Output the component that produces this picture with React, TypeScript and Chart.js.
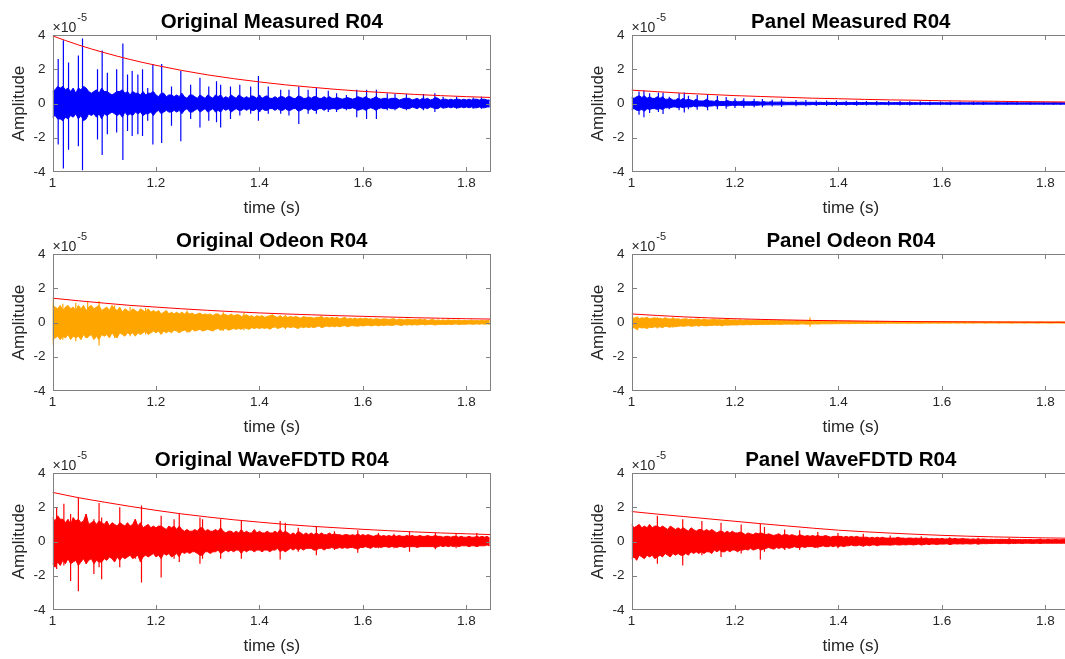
import React, { useEffect, useRef } from "react";
import { Chart, registerables } from "chart.js";
Chart.register(...registerables);

const FONT = "'Liberation Sans', Arial, Helvetica, sans-serif";

// axis ticks (amplitude in units of 1e-5)
const xTicks = [1, 1.2, 1.4, 1.6, 1.8];
const yTicks = [-4, -2, 0, 2, 4];
const xMin = 1;
const xMax = 1.8475;
const yMin = -4;
const yMax = 4;

// dense part of each signal: per-bin max / min (bin width 5 ms, first bin at 1.000 s)
const binStart = 1.0;
const binWidth = 0.005;

// envelope sample times (s)
const envTimes = [1.0, 1.05, 1.1, 1.15, 1.2, 1.25, 1.3, 1.35, 1.4, 1.45, 1.5, 1.55, 1.6, 1.65, 1.7, 1.75, 1.8, 1.85];

// ---------- Original Measured R04 ----------
const measOrigBandHi = [
  0.7, 0.8, 1.0, 0.9, 1.0, 0.8, 0.9, 0.7, 0.9, 0.6,
  0.9, 0.8, 1.0, 0.9, 0.7, 0.6, 0.7, 0.8, 0.6, 0.9,
  0.7, 0.7, 0.6, 0.5, 0.6, 0.7, 0.7, 0.8, 0.6, 0.7,
  0.5, 0.7, 0.6, 0.6, 0.5, 0.7, 0.5, 0.6, 0.6, 0.7,
  0.5, 0.4, 0.6, 0.6, 0.4, 0.5, 0.5, 0.4, 0.5, 0.4,
  0.6, 0.4, 0.3, 0.5, 0.5, 0.4, 0.3, 0.5, 0.4, 0.3,
  0.5, 0.4, 0.3, 0.5, 0.4, 0.5, 0.3, 0.4, 0.3, 0.5,
  0.4, 0.3, 0.5, 0.4, 0.3, 0.4, 0.3, 0.45, 0.4, 0.3,
  0.5, 0.3, 0.4, 0.45, 0.3, 0.3, 0.4, 0.3, 0.4, 0.4,
  0.3, 0.4, 0.4, 0.3, 0.3, 0.45, 0.4, 0.3, 0.3, 0.4,
  0.3, 0.4, 0.4, 0.3, 0.3, 0.4, 0.3, 0.4, 0.3, 0.3,
  0.35, 0.3, 0.25, 0.3, 0.35, 0.3, 0.25, 0.3, 0.4, 0.35,
  0.3, 0.4, 0.3, 0.25, 0.3, 0.4, 0.3, 0.25, 0.3, 0.3,
  0.25, 0.3, 0.3, 0.3, 0.2, 0.25, 0.3, 0.3, 0.3, 0.2,
  0.25, 0.3, 0.2, 0.3, 0.25, 0.3, 0.2, 0.25, 0.35, 0.3,
  0.2, 0.25, 0.25, 0.2, 0.25, 0.2, 0.25, 0.25, 0.2, 0.25,
  0.2, 0.25, 0.2, 0.25, 0.25, 0.2, 0.25, 0.25, 0.2, 0.2,
];
const measOrigBandLo = [
  -0.8, -0.7, -0.9, -0.9, -1.0, -0.8, -0.9, -0.7, -0.8, -0.6,
  -0.9, -0.7, -1.0, -0.9, -0.6, -0.7, -0.6, -0.8, -0.6, -0.9,
  -0.6, -0.7, -0.6, -0.5, -0.6, -0.7, -0.6, -0.8, -0.5, -0.7,
  -0.6, -0.7, -0.5, -0.6, -0.5, -0.7, -0.6, -0.6, -0.5, -0.7,
  -0.5, -0.4, -0.6, -0.5, -0.4, -0.5, -0.5, -0.4, -0.5, -0.4,
  -0.6, -0.4, -0.3, -0.5, -0.5, -0.4, -0.3, -0.5, -0.4, -0.3,
  -0.5, -0.4, -0.3, -0.5, -0.4, -0.5, -0.3, -0.4, -0.3, -0.5,
  -0.4, -0.3, -0.4, -0.4, -0.3, -0.4, -0.3, -0.4, -0.4, -0.3,
  -0.5, -0.3, -0.4, -0.4, -0.3, -0.3, -0.4, -0.3, -0.4, -0.4,
  -0.3, -0.4, -0.4, -0.3, -0.3, -0.45, -0.4, -0.3, -0.3, -0.4,
  -0.3, -0.4, -0.4, -0.3, -0.3, -0.4, -0.3, -0.35, -0.3, -0.3,
  -0.35, -0.3, -0.25, -0.3, -0.3, -0.3, -0.25, -0.3, -0.4, -0.35,
  -0.3, -0.4, -0.3, -0.25, -0.3, -0.4, -0.3, -0.25, -0.3, -0.3,
  -0.25, -0.3, -0.3, -0.3, -0.2, -0.25, -0.3, -0.3, -0.3, -0.2,
  -0.25, -0.3, -0.2, -0.3, -0.25, -0.3, -0.2, -0.25, -0.3, -0.3,
  -0.2, -0.25, -0.25, -0.2, -0.25, -0.2, -0.25, -0.25, -0.2, -0.25,
  -0.2, -0.25, -0.2, -0.25, -0.25, -0.2, -0.25, -0.25, -0.2, -0.2,
];
const measOrigSpikeT = [
  1.011, 1.021, 1.031, 1.05, 1.058, 1.087, 1.096, 1.106, 1.124, 1.136,
  1.145, 1.154, 1.165, 1.174, 1.184, 1.194, 1.211, 1.23, 1.248, 1.267,
  1.285, 1.302, 1.317, 1.325, 1.344, 1.362, 1.383, 1.398, 1.417, 1.441,
  1.457, 1.476, 1.494, 1.51, 1.533, 1.549, 1.568, 1.588, 1.607, 1.626,
  1.647, 1.662, 1.684, 1.717, 1.739, 1.755, 1.781, 1.813, 1.829,
];
const measOrigSpikeUp = [
  2.6, 3.7, 2.4, 2.8, 3.8, 2.0, 3.1, 1.8, 2.0, 3.5,
  1.7, 1.9, 1.7, 2.0, 0.9, 2.3, 2.3, 1.0, 1.9, 1.1,
  1.5, 1.0, 1.3, 1.1, 1.0, 1.1, 1.0, 1.6, 1.0, 0.8,
  0.8, 1.0, 0.8, 0.9, 0.75, 0.6, 0.5, 0.8, 0.8, 0.8,
  0.6, 0.55, 0.55, 0.55, 0.6, 0.4, 0.4, 0.35, 0.4,
];
const measOrigSpikeDown = [
  -2.4, -3.8, -2.7, -2.5, -3.9, -2.1, -3.0, -1.8, -1.7, -3.3,
  -1.6, -1.9, -1.8, -1.9, -1.0, -2.4, -2.3, -1.3, -2.2, -0.9,
  -1.4, -1.0, -1.1, -1.4, -0.9, -0.7, -0.6, -1.0, -0.6, -0.6,
  -0.7, -1.2, -0.6, -0.6, -0.5, -0.5, -0.4, -0.8, -0.9, -0.9,
  -0.4, -0.4, -0.4, -0.4, -0.5, -0.3, -0.3, -0.3, -0.3,
];
const measOrigEnv = [3.95, 3.42, 2.97, 2.57, 2.23, 1.93, 1.67, 1.45, 1.26, 1.09, 0.95, 0.82, 0.71, 0.62, 0.53, 0.46, 0.4, 0.35];

// ---------- Panel Measured R04 ----------
const measPanelBandHi = [
  0.35, 0.3, 0.4, 0.45, 0.35, 0.45, 0.3, 0.4, 0.3, 0.3,
  0.4, 0.3, 0.4, 0.25, 0.25, 0.3, 0.2, 0.2, 0.3, 0.2,
  0.3, 0.2, 0.25, 0.2, 0.15, 0.25, 0.15, 0.15, 0.15, 0.25,
  0.15, 0.15, 0.12, 0.2, 0.12, 0.12, 0.12, 0.18, 0.12, 0.1,
  0.15, 0.1, 0.1, 0.15, 0.1, 0.1, 0.1, 0.12, 0.1, 0.1,
  0.08, 0.12, 0.08, 0.08, 0.1, 0.08, 0.08, 0.08, 0.1, 0.08,
  0.07, 0.07, 0.08, 0.07, 0.07, 0.07, 0.08, 0.07, 0.07, 0.07,
  0.07, 0.06, 0.06, 0.07, 0.06, 0.06, 0.07, 0.06, 0.06, 0.06,
  0.06, 0.06, 0.07, 0.06, 0.06, 0.06, 0.06, 0.06, 0.06, 0.06,
  0.06, 0.05, 0.06, 0.05, 0.06, 0.05, 0.05, 0.06, 0.05, 0.05,
  0.05, 0.05, 0.06, 0.05, 0.05, 0.05, 0.05, 0.05, 0.05, 0.05,
  0.05, 0.04, 0.05, 0.05, 0.05, 0.04, 0.05, 0.05, 0.05, 0.04,
  0.05, 0.04, 0.05, 0.04, 0.05, 0.04, 0.05, 0.04, 0.05, 0.04,
  0.04, 0.05, 0.04, 0.04, 0.05, 0.04, 0.04, 0.05, 0.04, 0.04,
  0.04, 0.04, 0.05, 0.04, 0.04, 0.04, 0.04, 0.05, 0.04, 0.04,
  0.04, 0.04, 0.04, 0.05, 0.04, 0.04, 0.04, 0.04, 0.04, 0.04,
  0.04, 0.04, 0.04, 0.04, 0.05, 0.04, 0.04, 0.04, 0.04, 0.04,
];
const measPanelBandLo = [
  -0.35, -0.3, -0.4, -0.4, -0.35, -0.45, -0.3, -0.35, -0.3, -0.3,
  -0.35, -0.3, -0.35, -0.25, -0.25, -0.25, -0.2, -0.2, -0.25, -0.2,
  -0.25, -0.2, -0.2, -0.2, -0.15, -0.2, -0.15, -0.15, -0.15, -0.2,
  -0.15, -0.15, -0.12, -0.15, -0.12, -0.12, -0.12, -0.15, -0.12, -0.1,
  -0.12, -0.1, -0.1, -0.12, -0.1, -0.1, -0.1, -0.1, -0.1, -0.1,
  -0.08, -0.1, -0.08, -0.08, -0.08, -0.08, -0.08, -0.08, -0.08, -0.08,
  -0.07, -0.07, -0.07, -0.07, -0.07, -0.07, -0.07, -0.07, -0.07, -0.07,
  -0.06, -0.06, -0.06, -0.06, -0.06, -0.06, -0.06, -0.06, -0.06, -0.06,
  -0.06, -0.06, -0.06, -0.06, -0.06, -0.05, -0.06, -0.06, -0.05, -0.06,
  -0.05, -0.05, -0.05, -0.05, -0.05, -0.05, -0.05, -0.05, -0.05, -0.05,
  -0.05, -0.05, -0.05, -0.05, -0.05, -0.05, -0.05, -0.05, -0.05, -0.05,
  -0.05, -0.04, -0.05, -0.04, -0.05, -0.04, -0.05, -0.04, -0.05, -0.04,
  -0.04, -0.04, -0.05, -0.04, -0.04, -0.04, -0.04, -0.04, -0.04, -0.04,
  -0.04, -0.04, -0.04, -0.04, -0.04, -0.04, -0.04, -0.04, -0.04, -0.04,
  -0.04, -0.04, -0.04, -0.04, -0.04, -0.04, -0.04, -0.04, -0.04, -0.04,
  -0.04, -0.04, -0.04, -0.04, -0.04, -0.04, -0.04, -0.04, -0.04, -0.04,
  -0.04, -0.04, -0.04, -0.04, -0.04, -0.04, -0.04, -0.04, -0.04, -0.04,
];
const measPanelSpikeT = [
  1.0145, 1.024, 1.035, 1.052, 1.061, 1.073, 1.092, 1.102, 1.11, 1.127,
  1.147, 1.166, 1.183, 1.2, 1.217, 1.237, 1.253, 1.272, 1.29, 1.318,
  1.337, 1.357, 1.377, 1.396, 1.415, 1.435, 1.454, 1.474, 1.497, 1.519,
  1.538, 1.558, 1.577, 1.597, 1.616, 1.635, 1.661, 1.68, 1.706, 1.726,
  1.745, 1.771, 1.797, 1.816, 1.829,
];
const measPanelSpikeUp = [
  0.7, 0.76, 0.6, 0.64, 0.64, 0.4, 0.6, 0.64, 0.45, 0.5,
  0.56, 0.45, 0.38, 0.3, 0.3, 0.28, 0.26, 0.22, 0.25, 0.2,
  0.2, 0.18, 0.17, 0.17, 0.16, 0.16, 0.15, 0.15, 0.14, 0.14,
  0.13, 0.13, 0.12, 0.12, 0.12, 0.11, 0.11, 0.1, 0.1, 0.1,
  0.1, 0.09, 0.09, 0.09, 0.08,
];
const measPanelSpikeDown = [
  -0.66, -0.8, -0.56, -0.5, -0.62, -0.33, -0.4, -0.52, -0.33, -0.37,
  -0.4, -0.33, -0.3, -0.27, -0.25, -0.22, -0.22, -0.18, -0.2, -0.16,
  -0.16, -0.15, -0.14, -0.14, -0.13, -0.13, -0.12, -0.12, -0.12, -0.11,
  -0.11, -0.1, -0.1, -0.1, -0.1, -0.09, -0.09, -0.09, -0.08, -0.08,
  -0.08, -0.08, -0.07, -0.07, -0.07,
];
const measPanelEnv = [0.78, 0.69, 0.6, 0.53, 0.46, 0.41, 0.36, 0.31, 0.28, 0.24, 0.21, 0.19, 0.16, 0.14, 0.13, 0.11, 0.1, 0.085];

// ---------- Original Odeon R04 ----------
const odeonOrigBandHi = [
  1.0, 0.9, 0.8, 1.0, 0.7, 0.9, 1.0, 0.8, 0.9, 0.7,
  1.0, 0.8, 1.0, 0.7, 0.9, 1.0, 0.8, 0.9, 1.0, 0.7,
  0.8, 0.9, 0.7, 1.0, 0.8, 0.7, 0.9, 0.6, 0.8, 0.7,
  0.6, 0.8, 0.7, 0.6, 0.8, 0.7, 0.6, 0.8, 0.6, 0.7,
  0.6, 0.7, 0.5, 0.6, 0.7, 0.5, 0.6, 0.5, 0.6, 0.5,
  0.6, 0.5, 0.6, 0.5, 0.55, 0.45, 0.5, 0.55, 0.45, 0.5,
  0.45, 0.5, 0.4, 0.5, 0.5, 0.4, 0.5, 0.45, 0.4, 0.5,
  0.4, 0.45, 0.45, 0.35, 0.4, 0.45, 0.35, 0.4, 0.3, 0.4,
  0.35, 0.4, 0.3, 0.35, 0.4, 0.45, 0.35, 0.3, 0.4, 0.3,
  0.35, 0.3, 0.35, 0.3, 0.35, 0.3, 0.25, 0.35, 0.3, 0.3,
  0.3, 0.25, 0.3, 0.3, 0.35, 0.25, 0.3, 0.25, 0.3, 0.25,
  0.3, 0.2, 0.25, 0.3, 0.2, 0.25, 0.2, 0.25, 0.2, 0.25,
  0.2, 0.25, 0.2, 0.22, 0.18, 0.22, 0.2, 0.18, 0.22, 0.2,
  0.18, 0.2, 0.22, 0.15, 0.2, 0.18, 0.15, 0.2, 0.18, 0.15,
  0.18, 0.15, 0.2, 0.15, 0.18, 0.12, 0.15, 0.18, 0.12, 0.15,
  0.12, 0.15, 0.12, 0.16, 0.12, 0.14, 0.12, 0.15, 0.1, 0.12,
  0.12, 0.1, 0.14, 0.1, 0.12, 0.1, 0.12, 0.1, 0.12, 0.13,
];
const odeonOrigBandLo = [
  -1.0, -0.9, -0.8, -1.0, -0.8, -0.9, -0.7, -1.0, -0.8, -0.9,
  -0.8, -1.0, -0.7, -0.9, -0.8, -0.7, -1.0, -0.8, -1.0, -0.7,
  -0.8, -0.7, -0.9, -0.6, -0.8, -0.9, -0.6, -0.7, -0.8, -0.6,
  -0.7, -0.6, -0.8, -0.6, -0.7, -0.6, -0.5, -0.7, -0.6, -0.5,
  -0.6, -0.5, -0.7, -0.5, -0.6, -0.5, -0.6, -0.45, -0.5, -0.6,
  -0.5, -0.45, -0.5, -0.55, -0.4, -0.5, -0.45, -0.4, -0.5, -0.45,
  -0.4, -0.45, -0.5, -0.4, -0.35, -0.45, -0.4, -0.35, -0.45, -0.4,
  -0.35, -0.4, -0.35, -0.4, -0.3, -0.35, -0.4, -0.3, -0.35, -0.3,
  -0.35, -0.3, -0.35, -0.3, -0.4, -0.3, -0.25, -0.35, -0.3, -0.25,
  -0.3, -0.25, -0.3, -0.25, -0.3, -0.35, -0.25, -0.3, -0.25, -0.3,
  -0.25, -0.3, -0.25, -0.2, -0.3, -0.25, -0.2, -0.25, -0.2, -0.25,
  -0.2, -0.25, -0.2, -0.18, -0.25, -0.2, -0.18, -0.2, -0.22, -0.18,
  -0.2, -0.18, -0.15, -0.2, -0.18, -0.15, -0.2, -0.15, -0.18, -0.15,
  -0.15, -0.18, -0.15, -0.12, -0.15, -0.18, -0.12, -0.15, -0.12, -0.15,
  -0.12, -0.15, -0.12, -0.1, -0.14, -0.12, -0.1, -0.12, -0.15, -0.1,
  -0.12, -0.1, -0.12, -0.1, -0.12, -0.1, -0.08, -0.12, -0.1, -0.1,
  -0.1, -0.08, -0.1, -0.1, -0.08, -0.1, -0.08, -0.1, -0.08, -0.1,
];
const odeonOrigSpikeT = [1.001, 1.02, 1.045, 1.068, 1.09, 1.12, 1.15, 1.18, 1.26, 1.33, 1.37, 1.45, 1.52];
const odeonOrigSpikeUp = [1.35, 1.1, 1.15, 1.2, 1.25, 1.0, 0.9, 0.85, 0.7, 0.6, 0.55, 0.45, 0.4];
const odeonOrigSpikeDown = [-1.3, -1.0, -1.1, -0.9, -1.35, -0.9, -0.8, -0.7, -0.6, -0.5, -0.45, -0.4, -0.3];
const odeonOrigEnv = [1.42, 1.27, 1.13, 1.0, 0.9, 0.8, 0.71, 0.63, 0.56, 0.5, 0.45, 0.4, 0.36, 0.32, 0.28, 0.25, 0.22, 0.2];

// ---------- Panel Odeon R04 ----------
const odeonPanelBandHi = [
  0.3, 0.25, 0.3, 0.22, 0.28, 0.25, 0.3, 0.22, 0.25, 0.28,
  0.22, 0.25, 0.2, 0.28, 0.22, 0.2, 0.25, 0.2, 0.22, 0.18,
  0.2, 0.22, 0.18, 0.2, 0.16, 0.2, 0.18, 0.15, 0.2, 0.16,
  0.15, 0.18, 0.2, 0.15, 0.17, 0.14, 0.16, 0.2, 0.14, 0.15,
  0.15, 0.13, 0.16, 0.12, 0.14, 0.15, 0.12, 0.13, 0.11, 0.14,
  0.12, 0.11, 0.13, 0.1, 0.12, 0.11, 0.1, 0.12, 0.1, 0.11,
  0.1, 0.11, 0.09, 0.1, 0.12, 0.09, 0.1, 0.09, 0.1, 0.1,
  0.1, 0.09, 0.08, 0.09, 0.08, 0.09, 0.08, 0.07, 0.08, 0.09,
  0.07, 0.08, 0.07, 0.06, 0.08, 0.07, 0.06, 0.07, 0.06, 0.07,
  0.06, 0.07, 0.06, 0.05, 0.06, 0.07, 0.05, 0.06, 0.05, 0.06,
  0.05, 0.06, 0.05, 0.05, 0.06, 0.05, 0.04, 0.05, 0.05, 0.04,
  0.05, 0.04, 0.05, 0.04, 0.05, 0.04, 0.04, 0.05, 0.04, 0.04,
  0.04, 0.05, 0.04, 0.04, 0.03, 0.04, 0.04, 0.03, 0.04, 0.04,
  0.03, 0.04, 0.03, 0.04, 0.03, 0.03, 0.04, 0.03, 0.03, 0.04,
  0.03, 0.03, 0.04, 0.03, 0.03, 0.03, 0.04, 0.03, 0.03, 0.03,
  0.03, 0.03, 0.03, 0.04, 0.03, 0.03, 0.03, 0.03, 0.04, 0.03,
  0.03, 0.03, 0.03, 0.03, 0.03, 0.04, 0.03, 0.03, 0.03, 0.03,
];
const odeonPanelBandLo = [
  -0.35, -0.3, -0.4, -0.28, -0.32, -0.3, -0.35, -0.28, -0.3, -0.25,
  -0.28, -0.25, -0.3, -0.22, -0.25, -0.28, -0.2, -0.25, -0.22, -0.2,
  -0.22, -0.2, -0.18, -0.22, -0.2, -0.18, -0.2, -0.16, -0.18, -0.2,
  -0.16, -0.18, -0.15, -0.17, -0.15, -0.2, -0.14, -0.16, -0.15, -0.14,
  -0.14, -0.15, -0.12, -0.14, -0.13, -0.12, -0.14, -0.11, -0.13, -0.12,
  -0.11, -0.12, -0.1, -0.12, -0.1, -0.11, -0.1, -0.1, -0.11, -0.09,
  -0.1, -0.09, -0.1, -0.09, -0.1, -0.09, -0.08, -0.09, -0.1, -0.09,
  -0.09, -0.08, -0.09, -0.08, -0.07, -0.08, -0.07, -0.08, -0.07, -0.07,
  -0.07, -0.06, -0.07, -0.06, -0.07, -0.06, -0.06, -0.06, -0.05, -0.06,
  -0.06, -0.05, -0.06, -0.05, -0.05, -0.06, -0.05, -0.05, -0.05, -0.04,
  -0.05, -0.04, -0.05, -0.04, -0.05, -0.04, -0.04, -0.05, -0.04, -0.04,
  -0.04, -0.05, -0.04, -0.04, -0.03, -0.04, -0.04, -0.03, -0.04, -0.04,
  -0.03, -0.04, -0.03, -0.04, -0.03, -0.03, -0.04, -0.03, -0.03, -0.04,
  -0.03, -0.03, -0.04, -0.03, -0.03, -0.03, -0.03, -0.04, -0.03, -0.03,
  -0.03, -0.03, -0.04, -0.03, -0.03, -0.03, -0.03, -0.04, -0.03, -0.03,
  -0.03, -0.03, -0.04, -0.03, -0.03, -0.03, -0.03, -0.04, -0.03, -0.03,
  -0.03, -0.03, -0.04, -0.03, -0.03, -0.03, -0.03, -0.04, -0.03, -0.03,
];
const odeonPanelSpikeT = [1.012, 1.05, 1.08, 1.13, 1.345];
const odeonPanelSpikeUp = [0.35, 0.3, 0.3, 0.25, 0.3];
const odeonPanelSpikeDown = [-0.45, -0.35, -0.3, -0.25, -0.25];
const odeonPanelEnv = [0.5, 0.41, 0.33, 0.27, 0.22, 0.18, 0.15, 0.12, 0.1, 0.08, 0.065, 0.05, 0.043, 0.035, 0.03, 0.024, 0.02, 0.016];

// ---------- Original WaveFDTD R04 ----------
const waveOrigBandHi = [
  1.4, 1.2, 1.5, 1.3, 1.3, 1.1, 1.3, 1.0, 1.4, 1.2,
  1.3, 1.1, 1.2, 1.6, 1.0, 1.1, 1.2, 1.0, 1.2, 1.1,
  1.0, 1.2, 0.9, 1.1, 1.0, 0.9, 1.1, 1.0, 0.9, 1.1,
  0.9, 1.0, 1.3, 0.9, 1.1, 0.8, 0.9, 1.0, 0.8, 0.9,
  0.8, 0.9, 0.9, 0.8, 0.7, 0.9, 0.8, 0.9, 0.7, 0.9,
  0.7, 0.6, 0.7, 0.6, 0.6, 0.7, 0.6, 0.8, 0.8, 0.6,
  0.7, 0.6, 0.6, 0.7, 0.6, 0.8, 0.6, 0.5, 0.6, 0.6,
  0.5, 0.6, 0.5, 0.7, 0.5, 0.6, 0.5, 0.5, 0.7, 0.5,
  0.6, 0.5, 0.5, 0.6, 0.5, 0.5, 0.6, 0.5, 0.7, 0.5,
  0.6, 0.5, 0.4, 0.5, 0.4, 0.6, 0.5, 0.4, 0.5, 0.4,
  0.5, 0.4, 0.5, 0.4, 0.5, 0.4, 0.4, 0.5, 0.4, 0.45,
  0.4, 0.4, 0.35, 0.4, 0.4, 0.35, 0.4, 0.35, 0.45, 0.35,
  0.4, 0.35, 0.4, 0.35, 0.3, 0.35, 0.4, 0.3, 0.35, 0.3,
  0.35, 0.3, 0.35, 0.3, 0.35, 0.3, 0.3, 0.35, 0.3, 0.35,
  0.3, 0.3, 0.35, 0.3, 0.3, 0.35, 0.3, 0.3, 0.35, 0.3,
  0.3, 0.25, 0.3, 0.3, 0.25, 0.3, 0.3, 0.25, 0.3, 0.25,
  0.25, 0.3, 0.25, 0.25, 0.3, 0.25, 0.3, 0.25, 0.3, 0.2,
];
const waveOrigBandLo = [
  -1.3, -1.5, -1.2, -1.4, -1.1, -1.3, -1.0, -1.3, -1.2, -1.1,
  -1.4, -1.2, -1.0, -1.3, -1.1, -1.0, -1.3, -1.1, -1.2, -1.2,
  -1.0, -1.1, -0.9, -1.0, -1.2, -0.9, -1.1, -0.9, -1.0, -0.9,
  -0.8, -1.0, -0.9, -0.8, -1.2, -0.9, -0.8, -0.9, -0.8, -0.7,
  -0.9, -0.8, -1.0, -0.7, -0.8, -0.7, -0.9, -0.8, -0.7, -0.9,
  -0.6, -0.7, -0.6, -0.7, -0.6, -0.6, -0.7, -0.8, -0.8, -0.6,
  -0.6, -0.7, -0.6, -0.6, -0.5, -0.7, -0.6, -0.5, -0.6, -0.5,
  -0.6, -0.5, -0.5, -0.7, -0.5, -0.6, -0.5, -0.5, -0.6, -0.5,
  -0.5, -0.6, -0.5, -0.5, -0.6, -0.5, -0.5, -0.4, -0.6, -0.5,
  -0.6, -0.5, -0.4, -0.5, -0.4, -0.5, -0.4, -0.5, -0.4, -0.4,
  -0.4, -0.5, -0.5, -0.4, -0.4, -0.5, -0.4, -0.4, -0.35, -0.4,
  -0.4, -0.35, -0.4, -0.35, -0.4, -0.35, -0.35, -0.4, -0.45, -0.35,
  -0.35, -0.3, -0.35, -0.4, -0.3, -0.35, -0.3, -0.35, -0.3, -0.3,
  -0.35, -0.3, -0.3, -0.35, -0.3, -0.3, -0.35, -0.3, -0.3, -0.3,
  -0.3, -0.35, -0.3, -0.3, -0.3, -0.3, -0.3, -0.3, -0.35, -0.3,
  -0.25, -0.3, -0.25, -0.3, -0.25, -0.3, -0.25, -0.3, -0.25, -0.25,
  -0.25, -0.3, -0.25, -0.25, -0.3, -0.25, -0.25, -0.25, -0.2, -0.25,
];
const waveOrigSpikeT = [
  1.008, 1.022, 1.035, 1.05, 1.065, 1.08, 1.09, 1.095, 1.13, 1.16,
  1.172, 1.21, 1.235, 1.245, 1.285, 1.29, 1.325, 1.365, 1.44, 1.45,
  1.475, 1.51, 1.545, 1.59, 1.63, 1.66, 1.69, 1.74, 1.78, 1.82,
];
const waveOrigSpikeUp = [
  2.0, 2.2, 1.6, 2.55, 1.6, 1.3, 2.25, 1.4, 2.0, 1.3,
  2.1, 1.5, 1.3, 1.6, 1.4, 1.3, 1.3, 1.2, 1.2, 1.1,
  0.8, 0.85, 0.6, 0.65, 0.5, 0.45, 0.55, 0.5, 0.45, 0.5,
];
const waveOrigSpikeDown = [
  -1.6, -1.4, -2.3, -2.9, -1.3, -1.9, -1.5, -2.2, -1.5, -1.0,
  -2.4, -2.1, -1.0, -1.2, -1.3, -1.0, -1.0, -1.0, -1.05, -0.6,
  -0.6, -0.8, -0.5, -0.65, -0.4, -0.4, -0.6, -0.45, -0.4, -0.3,
];
const waveOrigEnv = [2.87, 2.56, 2.3, 2.05, 1.82, 1.61, 1.43, 1.27, 1.13, 1.0, 0.89, 0.8, 0.71, 0.63, 0.56, 0.5, 0.45, 0.4];

// ---------- Panel WaveFDTD R04 ----------
const wavePanelBandHi = [
  1.0, 0.8, 0.9, 1.0, 0.8, 0.9, 0.8, 1.0, 0.8, 0.9,
  0.9, 0.8, 0.9, 0.8, 0.7, 0.9, 0.8, 0.7, 0.8, 0.7,
  0.8, 0.7, 0.6, 0.8, 0.7, 0.6, 0.7, 0.7, 0.6, 0.7,
  0.6, 0.7, 0.6, 0.5, 0.6, 0.6, 0.5, 0.6, 0.5, 0.6,
  0.5, 0.5, 0.55, 0.5, 0.4, 0.5, 0.45, 0.4, 0.5, 0.45,
  0.5, 0.45, 0.4, 0.45, 0.4, 0.35, 0.4, 0.45, 0.35, 0.4,
  0.4, 0.35, 0.4, 0.35, 0.3, 0.4, 0.35, 0.3, 0.35, 0.3,
  0.35, 0.3, 0.35, 0.3, 0.3, 0.35, 0.3, 0.25, 0.3, 0.3,
  0.3, 0.3, 0.25, 0.3, 0.25, 0.3, 0.25, 0.3, 0.25, 0.25,
  0.25, 0.25, 0.2, 0.25, 0.2, 0.25, 0.2, 0.25, 0.2, 0.2,
  0.2, 0.2, 0.2, 0.25, 0.2, 0.2, 0.18, 0.2, 0.2, 0.18,
  0.2, 0.18, 0.2, 0.18, 0.2, 0.15, 0.18, 0.15, 0.18, 0.15,
  0.18, 0.15, 0.15, 0.18, 0.15, 0.18, 0.15, 0.15, 0.18, 0.15,
  0.15, 0.13, 0.15, 0.13, 0.15, 0.13, 0.15, 0.13, 0.12, 0.13,
  0.12, 0.13, 0.12, 0.13, 0.12, 0.12, 0.13, 0.12, 0.12, 0.1,
  0.12, 0.1, 0.12, 0.1, 0.12, 0.1, 0.1, 0.12, 0.12, 0.1,
  0.1, 0.12, 0.1, 0.1, 0.12, 0.1, 0.1, 0.12, 0.1, 0.1,
];
const wavePanelBandLo = [
  -1.0, -0.9, -1.1, -0.8, -0.9, -1.0, -0.8, -0.9, -0.8, -1.0,
  -0.9, -0.8, -0.9, -0.7, -0.8, -0.9, -0.7, -0.8, -0.7, -0.8,
  -0.8, -0.7, -0.8, -0.6, -0.7, -0.6, -0.7, -0.6, -0.7, -0.6,
  -0.6, -0.7, -0.5, -0.6, -0.5, -0.6, -0.6, -0.5, -0.6, -0.5,
  -0.5, -0.6, -0.5, -0.5, -0.45, -0.5, -0.4, -0.5, -0.45, -0.4,
  -0.5, -0.45, -0.4, -0.35, -0.4, -0.45, -0.35, -0.4, -0.35, -0.4,
  -0.35, -0.4, -0.35, -0.3, -0.35, -0.35, -0.3, -0.35, -0.3, -0.3,
  -0.3, -0.35, -0.3, -0.3, -0.25, -0.3, -0.3, -0.25, -0.3, -0.25,
  -0.3, -0.25, -0.3, -0.25, -0.25, -0.2, -0.25, -0.25, -0.2, -0.25,
  -0.25, -0.2, -0.25, -0.2, -0.2, -0.25, -0.2, -0.2, -0.2, -0.2,
  -0.2, -0.2, -0.18, -0.2, -0.2, -0.18, -0.2, -0.18, -0.18, -0.2,
  -0.18, -0.15, -0.2, -0.18, -0.15, -0.18, -0.15, -0.15, -0.18, -0.15,
  -0.15, -0.15, -0.13, -0.18, -0.15, -0.13, -0.15, -0.13, -0.15, -0.13,
  -0.13, -0.15, -0.13, -0.12, -0.15, -0.13, -0.12, -0.13, -0.12, -0.12,
  -0.12, -0.1, -0.12, -0.12, -0.1, -0.12, -0.13, -0.1, -0.12, -0.1,
  -0.1, -0.12, -0.1, -0.1, -0.1, -0.12, -0.1, -0.1, -0.12, -0.1,
  -0.1, -0.1, -0.1, -0.1, -0.1, -0.1, -0.1, -0.1, -0.1, -0.1,
];
const wavePanelSpikeT = [1.05, 1.099, 1.136, 1.173, 1.212, 1.249, 1.257, 1.296, 1.325, 1.36, 1.399, 1.448, 1.5, 1.56, 1.615, 1.67, 1.73, 1.79];
const wavePanelSpikeUp = [1.5, 1.3, 1.2, 1.1, 1.0, 1.03, 0.85, 0.7, 0.65, 0.55, 0.5, 0.45, 0.35, 0.3, 0.25, 0.22, 0.2, 0.18];
const wavePanelSpikeDown = [-1.3, -1.4, -0.8, -0.9, -0.7, -1.05, -0.6, -0.5, -0.5, -0.4, -0.4, -0.3, -0.25, -0.22, -0.2, -0.18, -0.15, -0.15];
const wavePanelEnv = [1.75, 1.6, 1.46, 1.32, 1.18, 1.04, 0.91, 0.78, 0.66, 0.57, 0.49, 0.42, 0.36, 0.31, 0.27, 0.24, 0.21, 0.19];

// ---------- layout ----------
const CANVAS_W = 510;
const CANVAS_H = 219;

type PanelSpec = {
  title: string;
  color: string;
  hi: number[];
  lo: number[];
  spikeT: number[];
  spikeUp: number[];
  spikeDown: number[];
  env: number[];
  left: number;
  top: number;
};

const panels: PanelSpec[] = [
  {
    title: "Original Measured R04", color: "#0000ff",
    hi: measOrigBandHi, lo: measOrigBandLo,
    spikeT: measOrigSpikeT, spikeUp: measOrigSpikeUp, spikeDown: measOrigSpikeDown,
    env: measOrigEnv, left: 0, top: 0,
  },
  {
    title: "Panel Measured R04", color: "#0000ff",
    hi: measPanelBandHi, lo: measPanelBandLo,
    spikeT: measPanelSpikeT, spikeUp: measPanelSpikeUp, spikeDown: measPanelSpikeDown,
    env: measPanelEnv, left: 579, top: 0,
  },
  {
    title: "Original Odeon R04", color: "#ffa500",
    hi: odeonOrigBandHi, lo: odeonOrigBandLo,
    spikeT: odeonOrigSpikeT, spikeUp: odeonOrigSpikeUp, spikeDown: odeonOrigSpikeDown,
    env: odeonOrigEnv, left: 0, top: 219,
  },
  {
    title: "Panel Odeon R04", color: "#ffa500",
    hi: odeonPanelBandHi, lo: odeonPanelBandLo,
    spikeT: odeonPanelSpikeT, spikeUp: odeonPanelSpikeUp, spikeDown: odeonPanelSpikeDown,
    env: odeonPanelEnv, left: 579, top: 219,
  },
  {
    title: "Original WaveFDTD R04", color: "#ff0000",
    hi: waveOrigBandHi, lo: waveOrigBandLo,
    spikeT: waveOrigSpikeT, spikeUp: waveOrigSpikeUp, spikeDown: waveOrigSpikeDown,
    env: waveOrigEnv, left: 0, top: 438,
  },
  {
    title: "Panel WaveFDTD R04", color: "#ff0000",
    hi: wavePanelBandHi, lo: wavePanelBandLo,
    spikeT: wavePanelSpikeT, spikeUp: wavePanelSpikeUp, spikeDown: wavePanelSpikeDown,
    env: wavePanelEnv, left: 579, top: 438,
  },
];

const matlabAxesPlugin = {
  id: "matlabAxes",
  afterDraw(chart: any, _args: any, opts: any) {
    const { ctx, chartArea: a, scales } = chart;
    const xs = scales.x;
    const ys = scales.y;
    ctx.save();
    ctx.strokeStyle = "#808080";
    ctx.lineWidth = 1;
    const L = Math.round(a.left) + 0.5;
    const R = Math.round(a.right) - 0.5;
    const T = Math.round(a.top) + 0.5;
    const B = Math.round(a.bottom) - 0.5;
    ctx.strokeRect(L, T, R - L, B - T);
    const tl = 4.5;
    ctx.beginPath();
    xTicks.forEach((v) => {
      let px = Math.round(xs.getPixelForValue(v)) + 0.5;
      px = Math.min(Math.max(px, L), R);
      ctx.moveTo(px, B);
      ctx.lineTo(px, B - tl);
      ctx.moveTo(px, T);
      ctx.lineTo(px, T + tl);
    });
    yTicks.forEach((v) => {
      let py = Math.round(ys.getPixelForValue(v)) + 0.5;
      py = Math.min(Math.max(py, T), B);
      ctx.moveTo(L, py);
      ctx.lineTo(L + tl, py);
      ctx.moveTo(R, py);
      ctx.lineTo(R - tl, py);
    });
    ctx.stroke();

    // title
    ctx.fillStyle = "#000000";
    ctx.font = `bold 20.5px ${FONT}`;
    ctx.textAlign = "center";
    ctx.textBaseline = "alphabetic";
    ctx.fillText(opts.title, (a.left + a.right) / 2, a.top - 7);

    // exponent label
    ctx.fillStyle = "#262626";
    ctx.textAlign = "left";
    ctx.font = `14px ${FONT}`;
    ctx.fillText("\u00d710", a.left, a.top - 3.5);
    const w = ctx.measureText("\u00d710").width;
    ctx.font = `11px ${FONT}`;
    ctx.fillText("-5", a.left + w + 1, a.top - 14);
    ctx.restore();
  },
};

function Panel({ spec }: { spec: PanelSpec }) {
  const ref = useRef<HTMLCanvasElement | null>(null);
  useEffect(() => {
    if (!ref.current) return;
    const upper = spec.hi.map((h, i) => ({ x: binStart + i * binWidth, y: h }));
    const lower = spec.lo.map((l, i) => ({ x: binStart + i * binWidth, y: l }));
    const spikes: { x: number; y: number }[] = [];
    spec.spikeT.forEach((t, i) => {
      spikes.push({ x: t, y: spec.spikeUp[i] });
      spikes.push({ x: t, y: spec.spikeDown[i] });
      spikes.push({ x: t, y: NaN });
    });
    const envelope = spec.env.map((v, i) => ({ x: envTimes[i], y: v }));
    const tickFont = { family: FONT, size: 13.5 };
    const chart = new Chart(ref.current, {
      type: "line",
      data: {
        datasets: [
          {
            data: envelope,
            parsing: false,
            borderColor: "#ff0000",
            borderWidth: 1,
            pointRadius: 0,
            cubicInterpolationMode: "monotone",
            fill: false,
            order: 0,
          } as any,
          {
            data: spikes,
            parsing: false,
            borderColor: spec.color,
            borderWidth: 1.2,
            pointRadius: 0,
            tension: 0,
            spanGaps: false,
            fill: false,
            order: 1,
          } as any,
          {
            data: upper,
            parsing: false,
            borderColor: spec.color,
            backgroundColor: spec.color,
            borderWidth: 1,
            pointRadius: 0,
            tension: 0,
            fill: "+1",
            order: 2,
          } as any,
          {
            data: lower,
            parsing: false,
            borderColor: spec.color,
            borderWidth: 1,
            pointRadius: 0,
            tension: 0,
            fill: false,
            order: 3,
          } as any,
        ],
      },
      options: {
        animation: false,
        responsive: false,
        maintainAspectRatio: false,
        devicePixelRatio: 1,
        events: [],
        layout: { padding: { top: 35, right: 19, left: 0, bottom: 0 } },
        plugins: {
          legend: { display: false },
          tooltip: { enabled: false },
          filler: { propagate: false },
          matlabAxes: { title: spec.title },
        } as any,
        scales: {
          x: {
            type: "linear",
            min: xMin,
            max: xMax,
            afterBuildTicks: (s: any) => {
              s.ticks = xTicks.map((v) => ({ value: v }));
            },
            afterFit: (s: any) => {
              s.height = 47;
            },
            ticks: {
              font: tickFont,
              color: "#262626",
              padding: 3,
              autoSkip: false,
              maxRotation: 0,
              minRotation: 0,
              callback: (v: any) => String(v),
            },
            grid: { display: false, drawTicks: false },
            border: { display: false },
            title: {
              display: true,
              text: "time (s)",
              color: "#262626",
              font: { family: FONT, size: 17 },
              padding: { top: 0, bottom: 0 },
            },
          },
          y: {
            type: "linear",
            min: yMin,
            max: yMax,
            afterBuildTicks: (s: any) => {
              s.ticks = yTicks.map((v) => ({ value: v }));
            },
            afterFit: (s: any) => {
              s.width = 52.5;
            },
            ticks: {
              font: tickFont,
              color: "#262626",
              padding: 7,
              autoSkip: false,
              callback: (v: any) => String(v),
            },
            grid: { display: false, drawTicks: false },
            border: { display: false },
            title: {
              display: true,
              text: "Amplitude",
              color: "#262626",
              font: { family: FONT, size: 17 },
              padding: { top: 9.5, bottom: 0 },
            },
          },
        },
      } as any,
      plugins: [matlabAxesPlugin],
    });
    return () => chart.destroy();
  }, [spec]);
  return (
    <canvas
      ref={ref}
      width={CANVAS_W}
      height={CANVAS_H}
      style={{ position: "absolute", left: spec.left, top: spec.top, width: CANVAS_W, height: CANVAS_H }}
    />
  );
}

export default function App() {
  return (
    <div
      style={{
        position: "fixed",
        left: 0,
        top: 0,
        width: 1065,
        height: 659,
        overflow: "hidden",
        background: "#ffffff",
      }}
    >
      {panels.map((p) => (
        <Panel key={p.title} spec={p} />
      ))}
    </div>
  );
}
